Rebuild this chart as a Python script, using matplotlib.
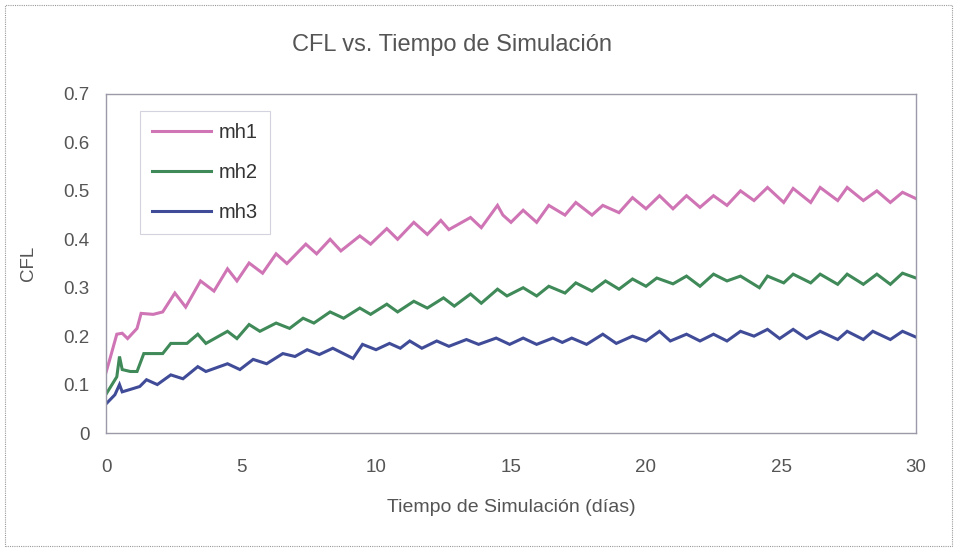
import matplotlib
matplotlib.use("Agg")
import matplotlib.pyplot as plt
from matplotlib.patches import Rectangle

# ---- data ----
t_mh1 = [0, 0.15, 0.4, 0.6, 0.8, 1.15, 1.3, 1.75, 2.1, 2.55, 2.95, 3.5, 4.0, 4.5, 4.85,
         5.3, 5.8, 6.3, 6.7, 7.4, 7.8, 8.3, 8.7, 9.4, 9.8, 10.4, 10.8, 11.4, 11.9, 12.4,
         12.7, 13.5, 13.9, 14.5, 14.7, 15.0, 15.45, 15.95, 16.4, 17.0, 17.4, 18.0, 18.4,
         19.0, 19.5, 20.0, 20.5, 21.0, 21.5, 22.0, 22.5, 23.0, 23.5, 24.0, 24.5, 25.1,
         25.45, 26.1, 26.45, 27.1, 27.45, 28.05, 28.55, 29.05, 29.5, 30.0]
v_mh1 = [0.125, 0.154, 0.204, 0.206, 0.195, 0.216, 0.247, 0.245, 0.25, 0.289, 0.260, 0.314,
         0.293, 0.339, 0.314, 0.351, 0.33, 0.37, 0.35, 0.39, 0.37, 0.40, 0.376, 0.407, 0.39,
         0.422, 0.40, 0.435, 0.41, 0.439, 0.42, 0.445, 0.424, 0.47, 0.45, 0.435, 0.46, 0.435,
         0.47, 0.45, 0.476, 0.45, 0.47, 0.455, 0.486, 0.463, 0.49, 0.463, 0.49, 0.466, 0.49,
         0.47, 0.50, 0.48, 0.507, 0.476, 0.505, 0.476, 0.507, 0.48, 0.507, 0.48, 0.50, 0.476,
         0.497, 0.484]

t_mh2 = [0, 0.4, 0.5, 0.6, 0.9, 1.15, 1.4, 2.1, 2.4, 3.0, 3.4, 3.7, 4.5, 4.85, 5.3, 5.7,
         6.3, 6.8, 7.3, 7.7, 8.3, 8.8, 9.4, 9.8, 10.4, 10.8, 11.4, 11.9, 12.5, 12.9, 13.5,
         13.9, 14.5, 14.85, 15.45, 15.95, 16.4, 17.0, 17.4, 18.0, 18.5, 19.0, 19.5, 20.0,
         20.4, 21.0, 21.5, 22.0, 22.5, 23.0, 23.5, 24.2, 24.5, 25.1, 25.45, 26.1, 26.45,
         27.1, 27.45, 28.05, 28.55, 29.05, 29.5, 30.0]
v_mh2 = [0.08, 0.116, 0.158, 0.131, 0.127, 0.127, 0.164, 0.164, 0.185, 0.185, 0.204, 0.185,
         0.21, 0.195, 0.224, 0.21, 0.227, 0.216, 0.237, 0.227, 0.25, 0.237, 0.258, 0.245,
         0.266, 0.25, 0.272, 0.258, 0.279, 0.262, 0.287, 0.268, 0.297, 0.283, 0.30, 0.283,
         0.303, 0.289, 0.31, 0.293, 0.314, 0.297, 0.318, 0.303, 0.32, 0.308, 0.324, 0.303,
         0.328, 0.314, 0.324, 0.30, 0.324, 0.31, 0.328, 0.31, 0.328, 0.307, 0.328, 0.307,
         0.328, 0.307, 0.33, 0.32]

t_mh3 = [0, 0.33, 0.5, 0.6, 0.9, 1.25, 1.5, 1.9, 2.4, 2.85, 3.4, 3.7, 4.5, 4.96, 5.45,
         5.95, 6.55, 7.0, 7.45, 7.9, 8.4, 9.15, 9.5, 10.0, 10.5, 10.9, 11.25, 11.7, 12.25,
         12.7, 13.35, 13.8, 14.45, 14.95, 15.45, 15.95, 16.55, 16.9, 17.25, 17.8, 18.4,
         18.9, 19.5, 20.0, 20.5, 20.9, 21.5, 22.0, 22.5, 23.0, 23.5, 24.0, 24.5, 24.95,
         25.45, 25.95, 26.45, 27.1, 27.45, 28.05, 28.4, 29.05, 29.5, 30.0]
v_mh3 = [0.06, 0.079, 0.10, 0.085, 0.09, 0.096, 0.11, 0.10, 0.12, 0.112, 0.137, 0.127,
         0.143, 0.131, 0.152, 0.143, 0.164, 0.158, 0.172, 0.162, 0.175, 0.154, 0.183, 0.172,
         0.185, 0.175, 0.19, 0.175, 0.19, 0.179, 0.193, 0.183, 0.196, 0.183, 0.196, 0.183,
         0.196, 0.187, 0.196, 0.183, 0.204, 0.185, 0.20, 0.19, 0.21, 0.19, 0.204, 0.19,
         0.204, 0.19, 0.21, 0.20, 0.214, 0.195, 0.214, 0.195, 0.21, 0.193, 0.21, 0.193,
         0.21, 0.193, 0.21, 0.198]

series_labels = ["mh1", "mh2", "mh3"]
series_colors = ["#cf74b4", "#3f8a58", "#404c98"]
x_ticks = [0, 5, 10, 15, 20, 25, 30]
y_ticks = [0, 0.1, 0.2, 0.3, 0.4, 0.5, 0.6, 0.7]
y_tick_labels = ["0", "0.1", "0.2", "0.3", "0.4", "0.5", "0.6", "0.7"]

plt.rcParams['font.family'] = ['Liberation Sans', 'DejaVu Sans']

W, H = 957, 549
fig = plt.figure(figsize=(W / 100, H / 100), dpi=100)
fig.patch.set_facecolor("white")
# outer figure border (scanned chart frame)
fig.patches.append(Rectangle((0.005, 0.006), 0.99, 0.985, transform=fig.transFigure,
                             fill=False, edgecolor="#9a9a9a", linewidth=0.8,
                             linestyle=(0, (1, 1))))

left, right, top, bottom = 106, 916, 94, 433
ax = fig.add_axes([left / W, 1 - bottom / H, (right - left) / W, (bottom - top) / H])

for t, v, lab, c in zip([t_mh1, t_mh2, t_mh3], [v_mh1, v_mh2, v_mh3],
                        series_labels, series_colors):
    ax.plot(t, v, color=c, linewidth=2.2, label=lab, solid_joinstyle="miter")

ax.set_xlim(0, 30)
ax.set_ylim(0, 0.7)
ax.set_xticks(x_ticks)
ax.set_yticks(y_ticks)
ax.set_yticklabels(y_tick_labels)
ax.tick_params(axis="both", labelcolor="#555555", labelsize=13.5)
ax.tick_params(axis="x", length=0, pad=19)
ax.tick_params(axis="y", length=0, pad=12)
for s in ax.spines.values():
    s.set_color("#9a9aa8")
    s.set_linewidth(1.0)

ax.set_xlabel("Tiempo de Simulación (días)", fontsize=14, color="#555555")
ax.xaxis.set_label_coords(0.5, (bottom - 507) / (bottom - top))
ax.xaxis.label.set_va("center")
ax.set_ylabel("CFL", fontsize=13.5, color="#555555")
ax.yaxis.set_label_coords((29 - left) / (right - left), 0.5)
ax.yaxis.label.set_va("center")

fig.text(452 / W, 1 - 45 / H, "CFL vs. Tiempo de Simulación", fontsize=17,
         color="#555555", ha="center", va="center")

leg = ax.legend(loc="upper left", bbox_to_anchor=(0.03, 0.98), fontsize=14.5,
                frameon=True, fancybox=False, handlelength=2.9, labelspacing=1.05,
                borderpad=0.6, handletextpad=0.4)
leg.get_frame().set_edgecolor("#c8c8d8")
leg.get_frame().set_linewidth(0.8)
for txt in leg.get_texts():
    txt.set_color("#333333")

fig.savefig("out.png", dpi=100, facecolor="white")
